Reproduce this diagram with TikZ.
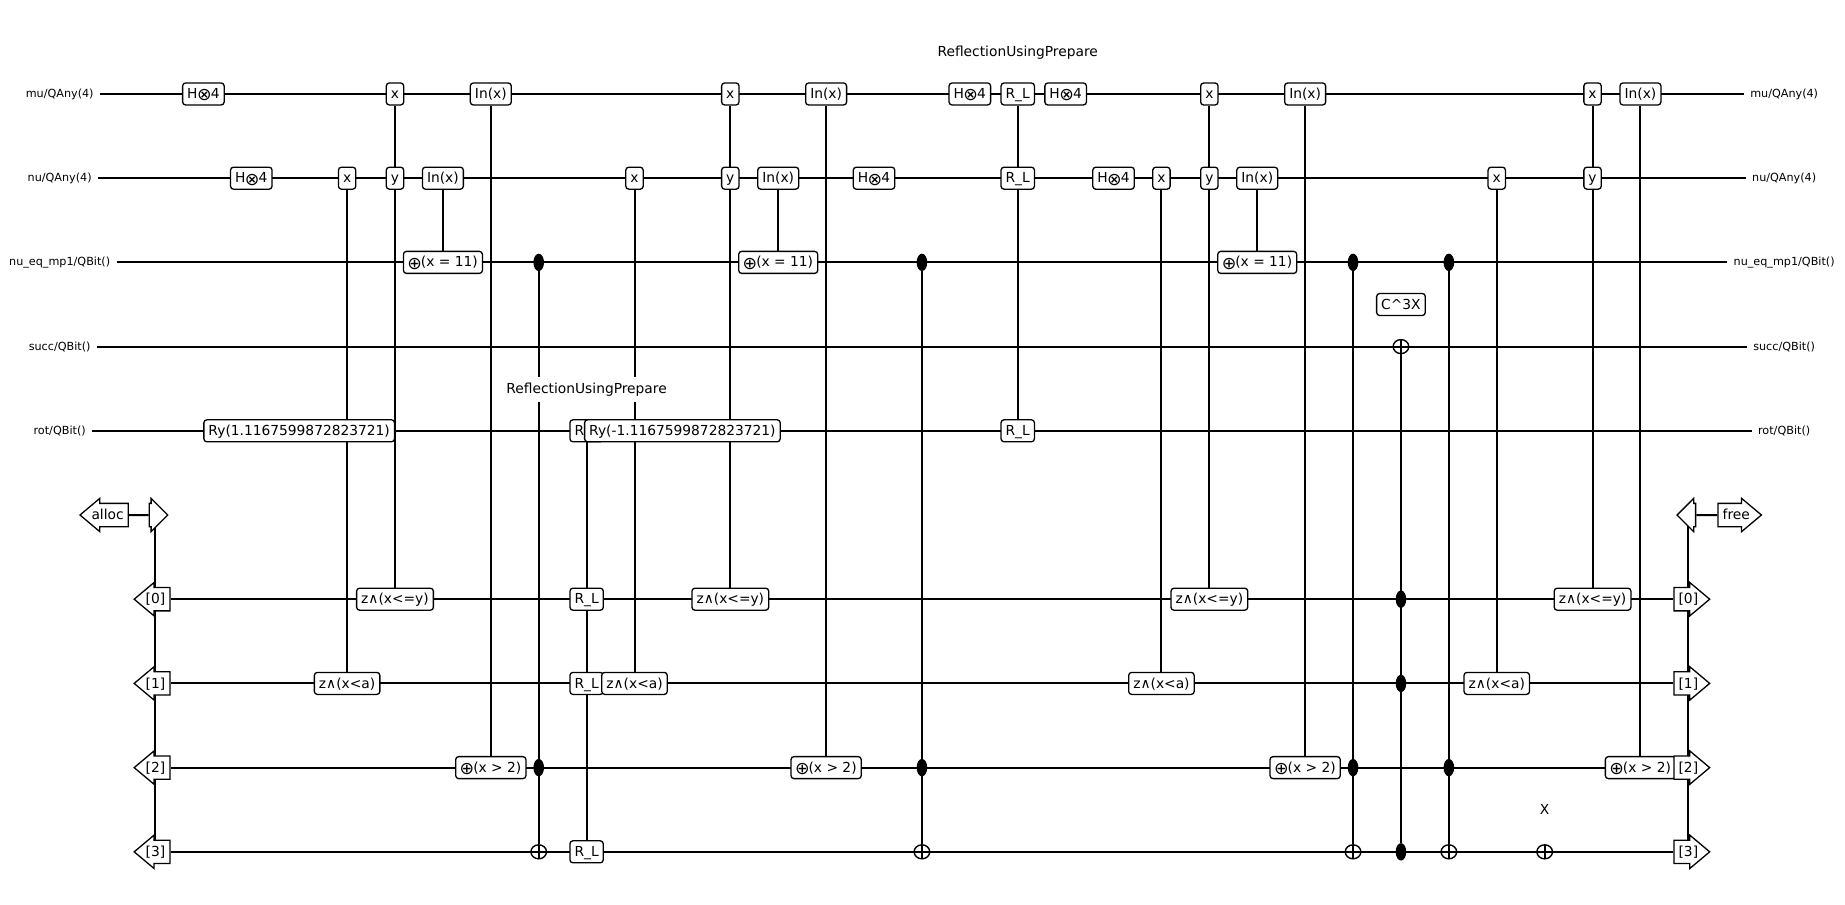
\documentclass[tikz,border=0pt]{standalone}
\usepackage{fontspec}
\setmainfont{DejaVu Sans}
\usetikzlibrary{shapes.arrows,shapes.geometric,backgrounds}
\newcommand\DX{23.95pt}
\newcommand\DY{-42.1pt}
\newcommand\RyA{Ry(1.1167599872823721)}
\newcommand\RyB{Ry(-1.1167599872823721)}
\newcommand\bigop[1]{\raisebox{-1.2pt}{\fontsize{8.7}{9}\selectfont #1}}
\newcommand\Hn{H\kern-.3pt\bigop{⊗}\kern-.4pt 4}
\newcommand\Pl{\kern-.3pt\bigop{⊕}\kern-.5pt}

\begin{document}
\begin{tikzpicture}[x=\DX,y=\DY,font=\fontsize{6.9}{8}\selectfont]

  \tikzstyle{wire}=[line width=1pt]
  \tikzstyle{gate}=[rectangle,draw,fill=white,rounded corners=1.5pt,line width=.65pt,
                    inner xsep=2.3pt,inner ysep=2pt,text height=5.8pt,text depth=1.2pt]
  \tikzstyle{wirelabel}=[inner xsep=3pt,inner ysep=1pt,font=\fontsize{5.6}{6}\selectfont]
  \tikzstyle{title}=[fill=white,inner xsep=1pt,inner ysep=3pt,yshift=-.5pt]
  \tikzstyle{ctrl}=[ellipse,fill=black,inner sep=0pt,minimum width=5.3pt,minimum height=8.7pt]
  \tikzstyle{target}=[ellipse,draw,inner sep=0pt,line width=.7pt,minimum width=7.8pt,minimum height=7pt,
                      path picture={\draw[wire] (path picture bounding box.north)
                                    -- (path picture bounding box.south);}]
  \tikzstyle{flag}=[single arrow,draw,fill=white,line width=.65pt,single arrow head extend=2.5pt,
                    inner xsep=2pt,inner ysep=2pt,text height=5.8pt,text depth=1.2pt]
  \tikzstyle{lflag}=[flag,single arrow tip angle=80,shape border rotate=180,
                     execute at begin node={\hspace*{-3.5pt}},xshift=1.75pt]
  \tikzstyle{rflag}=[flag,single arrow tip angle=80,
                     execute at end node={\hspace*{-3.5pt}},xshift=-1.75pt]
  \tikzstyle{stub}=[flag,inner xsep=1.4pt]

  \useasboundingbox (-4.246,-1.116) rectangle (34.27,9.62);

  \node[wirelabel] (muL)   at (-3,0) {mu/QAny(4)};
  \node[wirelabel] (nuL)   at (-3,1) {nu/QAny(4)};
  \node[wirelabel] (eqL)   at (-3,2) {nu\_eq\_mp1/QBit()};
  \node[wirelabel] (sucL)  at (-3,3) {succ/QBit()};
  \node[wirelabel] (rotL)  at (-3,4) {rot/QBit()};
  \node[wirelabel] (muR)   at (33,0) {mu/QAny(4)};
  \node[wirelabel] (nuR)   at (33,1) {nu/QAny(4)};
  \node[wirelabel] (eqR)   at (33,2) {nu\_eq\_mp1/QBit()};
  \node[wirelabel] (sucR)  at (33,3) {succ/QBit()};
  \node[wirelabel] (rotR)  at (33,4) {rot/QBit()};

  \node[gate] (H0)   at (0,0)  {\Hn};
  \node[gate] (H1)   at (1,1)  {\Hn};
  \node[gate] (Ry2)  at (2,4)  {\RyA};
  \node[gate] (x3)   at (3,1)  {x};
  \node[gate] (z3)   at (3,7)  {z∧(x<a)};
  \node[gate] (x4)   at (4,0)  {x};
  \node[gate] (y4)   at (4,1)  {y};
  \node[gate] (z4)   at (4,6)  {z∧(x<=y)};
  \node[gate] (In5)  at (5,1)  {In(x)};
  \node[gate] (E5)   at (5,2)  {\Pl(x = 11)};
  \node[gate] (In6)  at (6,0)  {In(x)};
  \node[gate] (G6)   at (6,8)  {\Pl(x > 2)};
  \node[ctrl]   (a7) at (7,2)  {};
  \node[ctrl]   (b7) at (7,8)  {};
  \node[target] (t7) at (7,9)  {};

  \node[gate] (Ra8)  at (8,4)  {R\_L};
  \node[gate] (Rb8)  at (8,6)  {R\_L};
  \node[gate] (Rc8)  at (8,7)  {R\_L};
  \node[gate] (Rd8)  at (8,9)  {R\_L};
  \node[gate] (x9)   at (9,1)  {x};
  \node[gate] (z9)   at (9,7)  {z∧(x<a)};
  \node[gate] (Ry10) at (10,4) {\RyB};
  \node[gate] (x11)  at (11,0) {x};
  \node[gate] (y11)  at (11,1) {y};
  \node[gate] (z11)  at (11,6) {z∧(x<=y)};
  \node[gate] (In12) at (12,1) {In(x)};
  \node[gate] (E12)  at (12,2) {\Pl(x = 11)};
  \node[gate] (In13) at (13,0) {In(x)};
  \node[gate] (G13)  at (13,8) {\Pl(x > 2)};
  \node[gate] (H14)  at (14,1) {\Hn};
  \node[ctrl]   (a15) at (15,2) {};
  \node[ctrl]   (b15) at (15,8) {};
  \node[target] (t15) at (15,9) {};
  \node[gate] (H16)  at (16,0) {\Hn};

  \node[gate] (Ra17) at (17,0) {R\_L};
  \node[gate] (Rb17) at (17,1) {R\_L};
  \node[gate] (Rc17) at (17,4) {R\_L};
  \node[gate] (H18)  at (18,0) {\Hn};
  \node[gate] (H19)  at (19,1) {\Hn};
  \node[gate] (x20)  at (20,1) {x};
  \node[gate] (z20)  at (20,7) {z∧(x<a)};
  \node[gate] (x21)  at (21,0) {x};
  \node[gate] (y21)  at (21,1) {y};
  \node[gate] (z21)  at (21,6) {z∧(x<=y)};
  \node[gate] (In22) at (22,1) {In(x)};
  \node[gate] (E22)  at (22,2) {\Pl(x = 11)};
  \node[gate] (In23) at (23,0) {In(x)};
  \node[gate] (G23)  at (23,8) {\Pl(x > 2)};
  \node[ctrl]   (a24) at (24,2) {};
  \node[ctrl]   (b24) at (24,8) {};
  \node[target] (t24) at (24,9) {};

  \node[gate]   (C25) at (25,2.5) {C\textasciicircum 3X};
  \node[target] (t25) at (25,3)   {};
  \node[ctrl]   (a25) at (25,6)   {};
  \node[ctrl]   (b25) at (25,7)   {};
  \node[ctrl]   (c25) at (25,9)   {};
  \node[ctrl]   (a26) at (26,2)   {};
  \node[ctrl]   (b26) at (26,8)   {};
  \node[target] (t26) at (26,9)   {};
  \node[gate] (x27)  at (27,1) {x};
  \node[gate] (z27)  at (27,7) {z∧(x<a)};
  \node (X28)         at (28,8.5) {X};
  \node[target] (t28) at (28,9)   {};
  \node[gate] (x29)  at (29,0) {x};
  \node[gate] (y29)  at (29,1) {y};
  \node[gate] (z29)  at (29,6) {z∧(x<=y)};
  \node[gate] (In30) at (30,0) {In(x)};
  \node[gate] (G30)  at (30,8) {\Pl(x > 2)};

  \node[title] (T8)  at (8,3.5)   {ReflectionUsingPrepare};
  \node[title] (T17) at (17,-0.5) {ReflectionUsingPrepare};

  \node[lflag] (alloc) at (-2,5) {alloc};
  \node[stub,xshift=-1.4pt] (out) at (-1,5) {};
  \node[lflag] (qL0) at (-1,6) {[0]};
  \node[lflag] (qL1) at (-1,7) {[1]};
  \node[lflag] (qL2) at (-1,8) {[2]};
  \node[lflag] (qL3) at (-1,9) {[3]};
  \node[stub,shape border rotate=180,xshift=1.9pt] (in) at (31,5) {};
  \node[rflag] (free) at (32,5) {free};
  \node[rflag] (qR0) at (31,6) {[0]};
  \node[rflag] (qR1) at (31,7) {[1]};
  \node[rflag] (qR2) at (31,8) {[2]};
  \node[rflag] (qR3) at (31,9) {[3]};

  \coordinate (railLa) at (-1,5);
  \coordinate (railLb) at (-1,9);
  \coordinate (railRa) at (31,5);
  \coordinate (railRb) at (31,9);

  \begin{scope}[on background layer]
  \path[wire]
  (muL)  edge (muR)
  (nuL)  edge (nuR)
  (eqL)  edge (eqR)
  (sucL) edge (sucR)
  (rotL) edge (rotR)
  (qL0)  edge (qR0)
  (qL1)  edge (qR1)
  (qL2)  edge (qR2)
  (qL3)  edge (qR3)
  (alloc) edge (out)
  (in)   edge (free)
  (railLa) edge (railLb)
  (railRa) edge (railRb)

  (x3)   edge (z3)
  (x4)   edge (z4)
  (In5)  edge (E5)
  (In6)  edge (G6)
  (a7)   edge (t7)
  (Ra8)  edge (Rd8)
  (x9)   edge (z9)
  (x11)  edge (z11)
  (In12) edge (E12)
  (In13) edge (G13)
  (a15)  edge (t15)
  (Ra17) edge (Rc17)
  (x20)  edge (z20)
  (x21)  edge (z21)
  (In22) edge (E22)
  (In23) edge (G23)
  (a24)  edge (t24)
  (t25)  edge (c25)
  (a26)  edge (t26)
  (x27)  edge (z27)
  (x29)  edge (z29)
  (In30) edge (G30)
  ;
  \end{scope}
\end{tikzpicture}
\end{document}
